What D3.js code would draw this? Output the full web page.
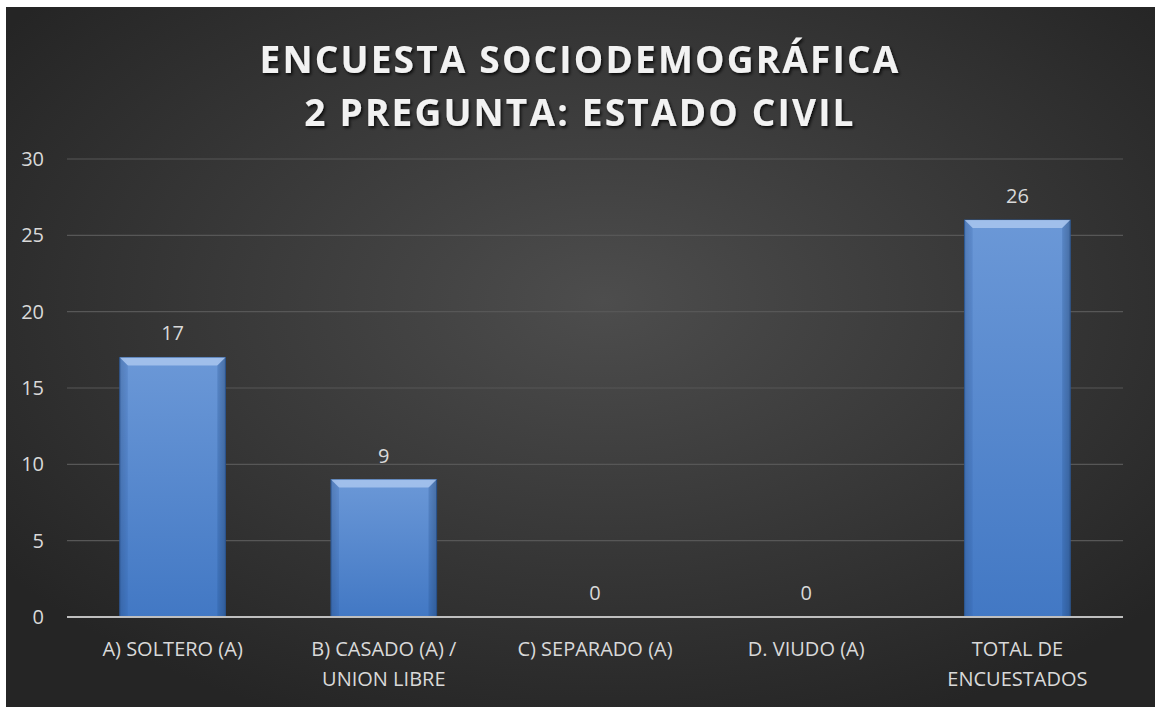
<!DOCTYPE html>
<html><head><meta charset="utf-8">
<script src="https://cdn.jsdelivr.net/npm/d3@7/dist/d3.min.js"></script>
<style>
html,body{margin:0;padding:0;background:#fff;}
svg{display:block;}
text{font-family:"Open Sans","Noto Sans",sans-serif;}
</style></head>
<body>
<script>
const categories = ["A) SOLTERO (A)", "B) CASADO (A) / UNION LIBRE", "C) SEPARADO (A)", "D. VIUDO (A)", "TOTAL DE ENCUESTADOS"];
const categoryLines = [["A) SOLTERO (A)"], ["B) CASADO (A) /", "UNION LIBRE"], ["C) SEPARADO (A)"], ["D. VIUDO (A)"], ["TOTAL DE", "ENCUESTADOS"]];
const values = [17, 9, 0, 0, 26];
const yTicks = [0, 5, 10, 15, 20, 25, 30];
const titleLines = ["ENCUESTA SOCIODEMOGRÁFICA", "2 PREGUNTA: ESTADO CIVIL"];

const W = 1155, H = 707;
const svg = d3.select("body").append("svg").attr("width", W).attr("height", H);
const defs = svg.append("defs");

const bg = defs.append("radialGradient").attr("id","bg").attr("cx","52%").attr("cy","42%").attr("r","65%");
bg.append("stop").attr("offset","0%").attr("stop-color","#4d4d4d");
bg.append("stop").attr("offset","100%").attr("stop-color","#252525");

const bar = defs.append("linearGradient").attr("id","bar").attr("x1","0").attr("y1","0").attr("x2","0").attr("y2","1");
bar.append("stop").attr("offset","0%").attr("stop-color","#6b98d7");
bar.append("stop").attr("offset","100%").attr("stop-color","#4278c4");
const barH = defs.append("linearGradient").attr("id","barH").attr("x1","0").attr("y1","0").attr("x2","1").attr("y2","0");
barH.append("stop").attr("offset","0%").attr("stop-color","#000").attr("stop-opacity",0.12);
barH.append("stop").attr("offset","7%").attr("stop-color","#000").attr("stop-opacity",0);
barH.append("stop").attr("offset","93%").attr("stop-color","#000").attr("stop-opacity",0);
barH.append("stop").attr("offset","100%").attr("stop-color","#000").attr("stop-opacity",0.18);

const shadow = defs.append("filter").attr("id","ts").attr("x","-5%").attr("y","-20%").attr("width","110%").attr("height","140%");
shadow.append("feDropShadow").attr("dx",1.5).attr("dy",2).attr("stdDeviation",1.5).attr("flood-color","#000").attr("flood-opacity",0.8);

svg.append("rect").attr("x",6).attr("y",7).attr("width",W-6).attr("height",H-7).attr("fill","url(#bg)");

const plot = {l:67, r:1123, t:159, b:617};
const x = d3.scaleBand().domain(categories).range([plot.l, plot.r]).paddingInner(0.5).paddingOuter(0.25);
const y = d3.scaleLinear().domain([0,30]).range([plot.b, plot.t]);

// title
const title = svg.append("text").attr("x", 578).attr("text-anchor","middle")
  .attr("fill","#f2f2f2").attr("font-size",37).attr("font-weight","bold")
  .attr("letter-spacing",2.2).attr("filter","url(#ts)");
titleLines.forEach((t,i)=> title.append("tspan").attr("x",580).attr("y", 73 + i*53).text(t));

// gridlines
svg.append("g").selectAll("line").data(yTicks.filter(d=>d>0)).join("line")
  .attr("x1",plot.l).attr("x2",plot.r).attr("y1",d=>y(d)).attr("y2",d=>y(d))
  .attr("stroke","#575757").attr("stroke-width",1.2);

// y axis
const yAxis = svg.append("g").attr("transform",`translate(${plot.l},0)`)
  .call(d3.axisLeft(y).tickValues(yTicks).tickSize(0).tickPadding(23));
yAxis.select(".domain").remove();
yAxis.selectAll("text").attr("fill","#d9d9d9").attr("font-size",20).attr("font-family","'Open Sans',sans-serif");

// bars
const bars = svg.append("g").selectAll("g").data(values).join("g");
bars.each(function(v,i){
  const g = d3.select(this);
  const x0 = x(categories[i]), bw = x.bandwidth(), y0 = y(v), h = y(0)-y(v);
  if (h <= 0) return;
  g.append("rect").attr("x",x0).attr("y",y0).attr("width",bw).attr("height",h)
    .attr("fill","url(#bar)").attr("stroke","#2f5d9c").attr("stroke-width",1);
  g.append("rect").attr("x",x0).attr("y",y0).attr("width",bw).attr("height",h).attr("fill","url(#barH)");
  const bv = 8;
  g.append("path").attr("d",`M${x0},${y0}L${x0+bw},${y0}L${x0+bw-bv},${y0+bv}L${x0+bv},${y0+bv}Z`)
    .attr("fill","#a9c6ee").attr("opacity",0.85);
  g.append("path").attr("d",`M${x0},${y0}L${x0+bv},${y0+bv}L${x0+bv},${y0+h}L${x0},${y0+h}Z`)
    .attr("fill","#2e5c9e").attr("opacity",0.2);
  g.append("path").attr("d",`M${x0+bw},${y0}L${x0+bw-bv},${y0+bv}L${x0+bw-bv},${y0+h}L${x0+bw},${y0+h}Z`)
    .attr("fill","#1e4a88").attr("opacity",0.25);
});

// value labels
svg.append("g").selectAll("text").data(values).join("text")
  .attr("x",(d,i)=>x(categories[i])+x.bandwidth()/2).attr("y",d=>y(d)-17)
  .attr("text-anchor","middle").attr("fill","#d9d9d9").attr("font-size",20).text(d=>d);

// x axis line
svg.append("line").attr("x1",plot.l).attr("x2",plot.r).attr("y1",y(0)).attr("y2",y(0))
  .attr("stroke","#bfbfbf").attr("stroke-width",2);

// x labels
const xl = svg.append("g").selectAll("text").data(categories).join("text")
  .attr("text-anchor","middle").attr("fill","#d9d9d9").attr("font-size",20);
xl.each(function(c,i){
  const t = d3.select(this);
  categoryLines[i].forEach((ln,j)=> t.append("tspan").attr("x", x(c)+x.bandwidth()/2).attr("y", 656 + j*30).text(ln));
});
</script>
</body></html>
